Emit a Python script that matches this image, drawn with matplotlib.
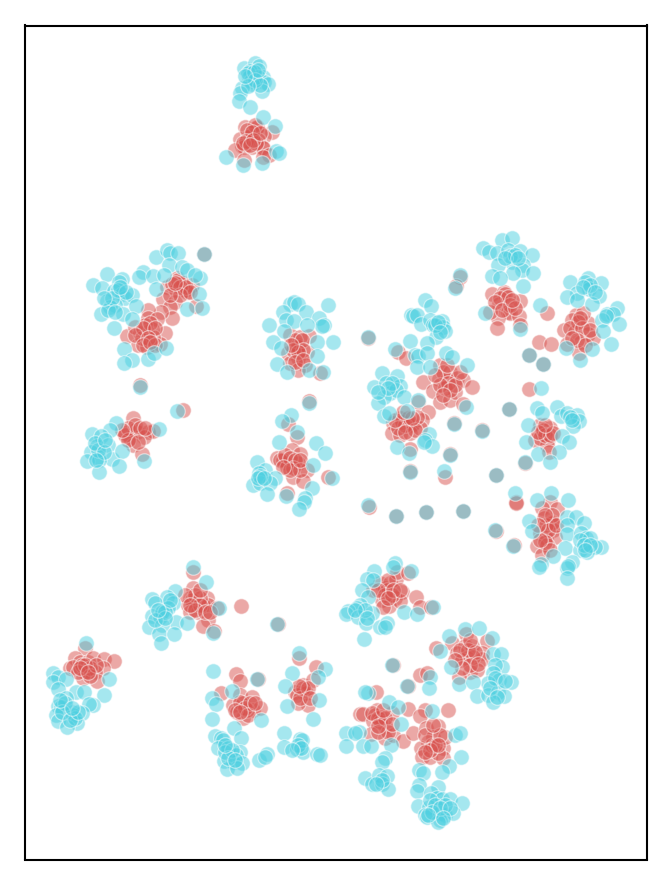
import matplotlib
matplotlib.use('Agg')
import matplotlib.pyplot as plt

red_points = [
    (245,127),(256,128),(257,127),(272,132),(264,136),(240,139),(248,137),(250,136),(258,140),(242,146),
    (244,147),(235,150),(252,147),(262,147),(263,148),(269,155),(244,160),(263,157),(255,125),
    (204,254),(177,278),(167,287),(176,290),(185,290),(192,285),(163,299),(175,302),(183,283),(170,307),
    (196,306),(172,318),(161,312),(187,292),(178,280),
    (148,310),(148,318),(157,319),(127,336),(165,333),(152,329),(147,332),(140,333),(135,327),(138,345),
    (147,347),(160,344),(142,338),(153,337),(140,385),(183,410),
    (133,418),(125,433),(135,430),(137,432),(148,432),(153,431),(144,437),(130,438),(133,445),(142,454),(125,435),
    (290,335),(309,336),(298,345),(299,347),(288,353),(307,352),(298,358),(290,363),(305,365),(298,370),
    (320,373),(298,347),(300,337),(309,401),
    (288,424),(297,437),(277,458),(292,450),(300,454),(287,463),(283,460),(298,463),(307,470),(293,477),
    (303,481),(328,477),(287,493),(280,460),(287,467),
    (492,294),(504,292),(505,294),(520,301),(499,304),(508,312),(510,313),(519,316),(498,318),(497,328),
    (520,325),(490,312),(547,313),
    (576,315),(572,320),(588,323),(564,330),(575,332),(588,334),(581,342),(593,338),(567,344),(579,353),(583,313),
    (539,342),(551,344),(529,355),(543,364),(529,389),(460,277),(456,286),(368,338),
    (398,352),(406,358),(440,365),(439,379),(447,380),(450,372),(457,378),(463,380),(423,382),(433,391),
    (440,402),(450,400),(455,392),(472,387),(445,388),(463,404),
    (418,402),(428,412),(400,418),(393,423),(412,424),(412,425),(422,420),(392,433),(400,435),(410,433),
    (420,428),(402,422),(417,417),(410,449),
    (454,423),(482,430),(450,454),(509,409),(410,471),(445,477),(496,475),
    (540,425),(550,428),(542,433),(548,439),(535,440),(547,445),(549,452),(540,438),(525,463),
    (369,507),(396,516),(426,512),(463,511),(496,531),(514,545),(516,502),(516,503),
    (550,502),(557,509),(542,508),(544,518),(552,522),(553,530),(540,533),(546,538),(555,537),(537,546),
    (547,545),(542,555),(552,523),
    (380,583),(385,588),(390,583),(396,579),(397,572),(408,573),(387,590),(373,590),(402,592),(395,598),
    (382,600),(389,606),(400,601),(416,597),(420,607),(431,607),
    (436,648),(452,643),(466,634),(487,641),(465,646),(472,646),(457,653),(467,658),(482,653),(482,659),
    (462,660),(470,672),(459,677),(477,670),(473,657),
    (393,665),(408,686),(420,675),(427,673),(448,710),(376,692),(408,709),(425,710),(420,716),
    (360,714),(363,714),(377,710),(375,715),(380,717),(392,713),(373,721),(385,726),(380,722),(371,734),
    (385,738),(393,735),(403,741),(413,733),
    (426,728),(438,726),(433,737),(428,742),(421,748),(443,748),(445,737),(422,757),(430,757),(443,758),
    (438,753),(432,745),
    (193,572),(193,588),(190,598),(192,600),(207,598),(188,605),(203,605),(208,605),(198,612),(190,612),
    (208,620),(203,626),(214,631),(200,598),(217,608),(241,606),(278,624),
    (85,648),(75,658),(70,668),(80,662),(88,662),(93,658),(104,659),(114,661),(103,668),(87,670),
    (85,672),(95,672),(83,678),(97,681),(73,667),
    (236,674),(240,681),(221,693),(240,695),(233,705),(243,703),(252,697),(253,710),(260,708),(243,718),
    (237,712),(247,710),(258,679),
    (299,658),(316,667),(303,685),(295,692),(303,692),(313,680),(306,693),(297,695),(308,705),(298,703),
    # dense cluster cores
    (247,130),(252,132),(246,141),(256,143),(243,143),(253,140),(260,133),(250,145),
    (172,284),(180,287),(186,287),(180,295),(170,295),(190,292),(175,283),
    (145,325),(150,323),(143,328),(155,328),(135,335),(148,338),(143,345),(155,345),(150,342),
    (128,428),(135,425),(140,428),(128,440),(138,442),(145,428),(122,430),
    (295,340),(302,340),(293,350),(303,350),(298,352),(295,362),(303,360),(291,345),
    (285,455),(290,458),(295,460),(293,468),(300,470),(290,470),(300,460),(283,467),
    (500,298),(508,297),(495,302),(510,305),(502,310),(515,308),(512,300),
    (578,322),(570,328),(582,328),(577,340),(585,345),(572,338),(580,318),(590,330),
    (443,372),(448,383),(455,385),(440,385),(450,390),(443,395),(460,372),(435,375),(447,365),
    (405,425),(408,418),(415,430),(398,428),(405,432),(395,420),(412,418),(403,412),
    (543,430),(545,435),(550,435),(538,432),(553,433),(545,425),
    (546,525),(548,530),(552,515),(545,542),(550,550),(540,540),(556,525),(545,515),(538,525),
    (385,595),(388,580),(392,595),(378,590),(393,590),(383,607),(400,590),(388,598),
    (468,650),(460,650),(475,652),(470,665),(462,668),(478,664),(455,660),(470,640),
    (378,718),(385,718),(372,713),(388,732),(378,732),(383,710),(392,724),(378,726),
    (435,745),(425,735),(440,735),(430,750),(438,745),(425,752),(433,725),
    (195,595),(200,605),(195,610),(185,595),(205,612),(190,605),(200,590),(210,612),
    (82,665),(90,668),(78,672),(85,665),(90,676),(96,665),(80,668),(88,672),
    (240,702),(245,708),(235,710),(250,703),(248,715),(240,712),(255,703),
    (303,688),(300,698),(308,688),(299,686),(310,698),
]

teal_points = [
    (244,68),(255,63),(259,66),(250,71),(249,77),(263,77),(251,81),(258,77),(264,82),(268,84),
    (252,84),(242,88),(240,93),(262,91),(239,101),(250,107),(248,73),
    (263,117),(275,126),(276,151),(279,153),(226,157),(243,165),(262,163),
    (107,274),(93,285),(102,288),(122,279),(119,282),(114,291),(122,294),(125,298),(132,295),(107,301),
    (115,305),(110,307),(101,314),(108,310),(123,314),(136,306),(114,328),(132,319),
    (156,257),(167,250),(170,253),(178,253),(169,265),(182,267),(143,272),(139,277),(153,276),(164,275),
    (187,270),(200,278),(156,289),(199,294),(187,309),(202,308),(195,275),(204,254),
    (124,349),(132,360),(124,363),(148,359),(154,353),(166,348),(140,387),(177,411),
    (159,429),(116,423),(110,430),(92,434),(101,436),(97,446),(108,445),(91,452),(98,457),(112,459),
    (122,451),(87,461),(99,460),(119,466),(99,472),(144,461),
    (290,304),(294,302),(298,304),(328,305),(283,312),(306,312),(319,318),(324,325),(322,326),(269,325),
    (286,320),(294,321),(307,325),(284,331),(273,342),(281,348),(333,342),(317,342),(317,356),(277,364),
    (287,372),(309,370),(323,372),(309,403),
    (291,415),(282,421),(297,432),(279,442),(316,443),(325,453),(313,465),(257,462),(265,470),(259,473),
    (275,478),(253,485),(260,483),(270,483),(267,494),(332,478),(312,488),(286,496),(305,498),(304,502),(299,509),
    (483,248),(502,240),(512,238),(489,252),(497,253),(508,250),(520,251),(532,255),(512,262),(523,265),
    (498,265),(522,270),(513,273),(533,273),(492,276),(500,278),(523,286),(485,313),(540,305),(520,329),
    (570,282),(588,278),(585,282),(589,289),(601,283),(577,293),(567,297),(599,296),(577,300),(592,304),
    (617,308),(607,314),(613,314),(602,320),(619,324),(603,331),(611,344),(592,349),(566,348),(580,360),
    (529,355),(543,364),(541,388),(460,275),(455,288),(368,337),
    (425,300),(431,306),(411,315),(413,316),(417,315),(421,324),(430,320),(442,321),(433,325),(443,327),
    (436,337),(445,331),(427,343),(410,341),(395,349),(415,355),(418,356),(417,367),(427,353),(430,367),
    (446,353),(452,357),(467,365),(466,407),
    (382,373),(397,376),(374,387),(400,386),(386,383),(390,393),(396,390),(384,397),(378,403),(404,397),
    (407,411),(384,416),(389,413),(418,400),
    (429,434),(425,440),(432,446),(397,447),(409,453),(424,442),
    (454,424),(482,431),(450,455),(509,409),(410,472),(444,471),(496,475),
    (537,408),(542,413),(557,407),(561,416),(567,413),(577,415),(579,421),(573,426),(528,425),(562,436),
    (569,442),(526,442),(559,452),(538,454),(550,462),(525,462),
    (368,505),(396,516),(426,512),(463,511),(495,530),(513,546),(515,493),
    (537,500),(551,493),(568,500),(529,521),(567,517),(576,517),(584,523),(567,525),(532,531),(567,534),
    (581,533),(586,538),(590,538),(565,548),(601,547),(595,547),(580,550),(587,552),(553,556),(572,562),
    (567,568),(568,566),(541,564),(539,567),(567,578),
    (395,563),(393,567),(374,571),(411,571),(367,579),(373,580),(362,590),(368,597),(360,605),(357,608),
    (348,611),(346,614),(358,617),(372,613),(366,623),(380,627),(387,623),(385,627),(404,612),(417,614),
    (364,639),(433,607),
    (449,636),(465,629),(479,628),(492,638),(440,651),(493,654),(501,654),(502,667),(495,665),(451,667),
    (493,673),(499,680),(511,682),(488,683),(459,684),(473,682),(477,696),(488,695),(498,692),(504,696),(493,702),
    (392,665),(407,686),(430,677),(429,688),
    (368,693),(365,692),(389,702),(398,707),(432,711),(401,724),
    (346,733),(359,732),(355,733),(346,746),(363,746),(371,746),(391,745),(385,758),(382,762),
    (455,735),(460,733),(461,757),(449,766),(442,772),(419,770),(423,773),
    (365,778),(372,784),(379,775),(387,776),(382,784),(388,789),
    (419,785),(417,791),(438,787),(431,793),(437,798),(442,799),(450,799),(462,803),(418,806),(429,807),
    (425,815),(427,817),(440,813),(445,815),(453,813),(440,820),(438,822),
    (193,567),(206,582),(219,608),(277,624),
    (152,599),(175,591),(167,597),(155,603),(173,603),(168,608),(152,616),(160,617),(162,612),(176,622),
    (187,623),(149,627),(162,625),(159,634),(174,634),(161,643),(213,633),
    (86,643),(53,673),(58,677),(53,682),(66,679),(109,679),(58,689),(76,692),(84,692),(104,695),
    (66,698),(58,706),(61,707),(93,705),(89,704),(72,712),(82,713),(56,715),(73,715),(58,721),
    (77,723),(67,727),(75,718),
    (213,671),(257,679),(232,691),(212,698),(216,704),(212,719),(261,720),
    (234,728),(215,736),(221,738),(241,738),(223,740),(218,748),(228,748),(240,752),(236,755),(224,761),
    (233,762),(242,763),(227,769),(237,768),(259,760),(267,754),(265,757),
    (299,653),(292,673),(325,669),(318,677),(285,686),(319,700),(287,706),(313,719),(284,733),(300,739),
    (284,747),(297,749),(303,752),(317,754),(320,755),(302,740),
    # dense cluster cores
    (254,72),(255,80),(260,85),(248,86),(258,70),(245,76),
    (118,290),(112,298),(126,292),(104,298),(115,312),(120,287),
    (98,450),(95,443),(104,452),(96,460),(105,440),
    (260,476),(258,478),(264,478),
    (510,256),(515,255),(505,258),(518,258),
    (590,285),(583,287),(595,292),(606,316),
    (435,325),(438,322),(440,332),(392,383),(388,388),(378,392),
    (570,417),(572,420),
    (580,540),(584,545),(590,545),(585,550),
    (365,610),(355,610),(367,618),
    (495,678),(490,688),(497,697),(505,681),
    (430,800),(435,805),(445,805),(432,812),(440,808),(428,815),(450,808),(443,818),
    (165,612),(155,620),(165,618),(170,600),(158,610),
    (65,703),(62,712),(70,720),(78,712),(60,700),(72,708),
    (225,752),(232,750),(228,758),(235,760),(225,745),
    (298,745),(301,748),(292,750),
    (382,780),(376,784),
]

fig = plt.figure(figsize=(6.64, 8.77), dpi=100)
ax = fig.add_axes([25 / 664, 1 - 859.5 / 877, 622 / 664, 834 / 877])

for points, color in [(red_points, '#d9534f'), (teal_points, '#4dd0e1')]:
    xs, ys = zip(*points)
    ax.scatter(xs, ys, s=125, c=color, alpha=0.5, edgecolors='white', linewidths=0.9)

ax.set_xlim(25, 647)
ax.set_ylim(859.5, 25.5)
ax.set_xticks([])
ax.set_yticks([])
for spine in ax.spines.values():
    spine.set_linewidth(1.5)

fig.savefig('out.png', dpi=100)
